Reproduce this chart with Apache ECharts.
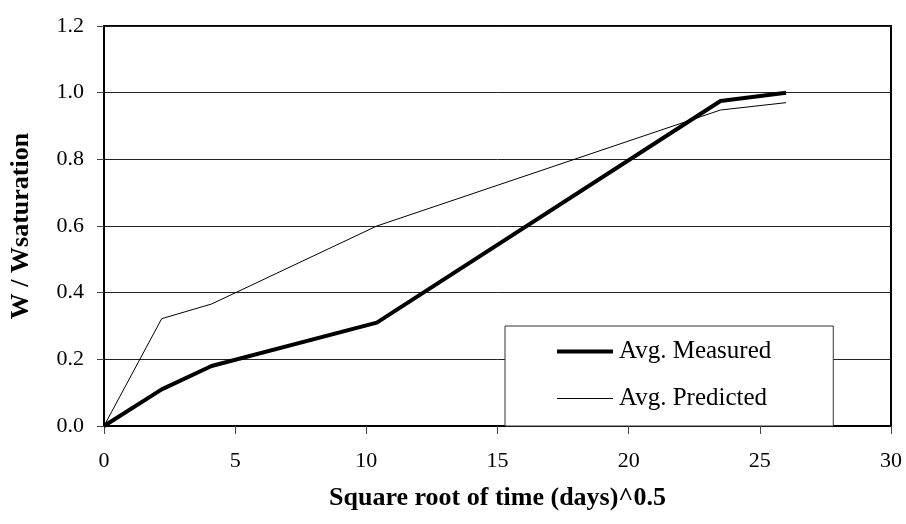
<!DOCTYPE html>
<html>
<head>
<meta charset="utf-8">
<script src="https://cdn.jsdelivr.net/npm/echarts@6/dist/echarts.min.js"></script>
<style>
html,body{margin:0;padding:0;background:#fff;}
#chart{width:906px;height:524px;}
</style>
</head>
<body>
<div id="chart"></div>
<script>
var sqrtTime = [0, 2.2, 4.1, 10.4, 23.5, 26.0];
var avgMeasured = [0, 0.11, 0.18, 0.31, 0.975, 1.0];
var avgPredicted = [0, 0.322, 0.366, 0.60, 0.948, 0.970];
var seriesNames = ['Avg. Measured', 'Avg. Predicted'];
var xAxisTitle = 'Square root of time (days)^0.5';
var yAxisTitle = 'W / Wsaturation';

function pairs(xs, ys) { return xs.map(function (x, i) { return [x, ys[i]]; }); }

var FONT = '"Liberation Serif", "Times New Roman", serif';
var chart = echarts.init(document.getElementById('chart'));
chart.setOption({
  animation: false,
  backgroundColor: '#fff',
  grid: { left: 103, right: 15, top: 26, bottom: 98, show: true, borderColor: '#000', borderWidth: 2, backgroundColor: 'transparent' },
  xAxis: {
    type: 'value', min: 0, max: 30, interval: 5,
    name: xAxisTitle, nameLocation: 'middle', nameGap: 59,
    nameTextStyle: { fontFamily: FONT, fontWeight: 'bold', fontSize: 26, color: '#000' },
    axisLine: { show: true, lineStyle: { color: '#000', width: 2 } },
    axisTick: { show: true, inside: false, length: 8, lineStyle: { color: '#444', width: 1 } },
    axisLabel: { fontFamily: FONT, fontSize: 22, color: '#000', margin: 24 },
    splitLine: { show: false }
  },
  yAxis: {
    type: 'value', min: 0, max: 1.2, interval: 0.2,
    name: yAxisTitle, nameLocation: 'middle', nameGap: 70, nameRotate: 90,
    nameTextStyle: { fontFamily: FONT, fontWeight: 'bold', fontSize: 26, color: '#000' },
    axisLine: { show: true, lineStyle: { color: '#000', width: 2 } },
    axisTick: { show: true, inside: false, length: 7, lineStyle: { color: '#444', width: 1 } },
    axisLabel: { fontFamily: FONT, fontSize: 22, color: '#000', margin: 20,
      formatter: function (v) { return v.toFixed(1); } },
    splitLine: { show: true, lineStyle: { color: '#222', width: 1 } }
  },
  legend: {
    orient: 'vertical', left: 505, top: 326,
    padding: [13, 62, 15, 52],
    itemWidth: 56, itemHeight: 14, itemGap: 22,
    backgroundColor: '#fff', borderColor: '#333', borderWidth: 1,
    textStyle: { fontFamily: FONT, fontSize: 25, color: '#000', lineHeight: 25, padding: [0, 0, 0, 1] },
    data: [
      { name: seriesNames[0], icon: 'path://M0,0 L56,0 L56,4 L0,4 Z', itemStyle: { color: '#000', borderWidth: 0 } },
      { name: seriesNames[1], icon: 'path://M0,0 L56,0 L56,1 L0,1 Z', itemStyle: { color: '#000', borderWidth: 0 } }
    ]
  },
  series: [
    { name: seriesNames[0], type: 'line', data: pairs(sqrtTime, avgMeasured), symbol: 'none', showSymbol: false,
      lineStyle: { color: '#000', width: 4 }, itemStyle: { color: '#000' }, z: 3 },
    { name: seriesNames[1], type: 'line', data: pairs(sqrtTime, avgPredicted), symbol: 'none', showSymbol: false,
      lineStyle: { color: '#000', width: 1 }, itemStyle: { color: '#000' }, z: 2 }
  ]
});
</script>
</body>
</html>
